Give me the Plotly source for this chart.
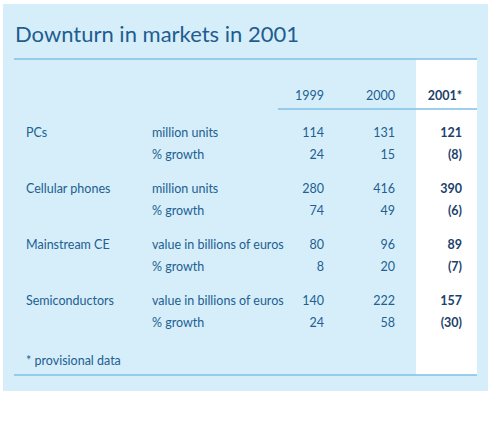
import plotly.graph_objects as go

# Table data
years = ["1999", "2000", "2001*"]
markets = ["PCs", "Cellular phones", "Mainstream CE", "Semiconductors"]
units = ["million units", "million units",
         "value in billions of euros", "value in billions of euros"]
values_1999 = [114, 280, 80, 140]
values_2000 = [131, 416, 96, 222]
values_2001 = [121, 390, 89, 157]
growth_1999 = [24, 74, 8, 24]
growth_2000 = [15, 49, 20, 58]
growth_2001 = [-8, -6, -7, -30]

title = "Downturn in markets in 2001"
note = "* provisional data"

# Styling
W, H = 493, 426
FONT = "Lato"
PANEL = "#d5eef9"
LINE = "#7fbfe6"
TITLE_COL = "#1f5d90"
TEXT_COL = "#235e92"
BOLD_COL = "#1d3f6b"

col_market_x = 26
col_unit_x = 152
col_year_x = [324, 395, 462]
header_y = 97
first_row_y = 134
group_step = 56
sub_step = 22


def fmt(v):
    return f"({abs(v)})" if v < 0 else str(v)


row_y, labels, unit_labels = [], [], []
cols = [[], [], []]
for i, m in enumerate(markets):
    y0 = first_row_y + group_step * i
    row_y += [y0, y0 + sub_step]
    labels += [m, ""]
    unit_labels += [units[i], "% growth"]
    cols[0] += [fmt(values_1999[i]), fmt(growth_1999[i])]
    cols[1] += [fmt(values_2000[i]), fmt(growth_2000[i])]
    cols[2] += [fmt(values_2001[i]), fmt(growth_2001[i])]

fig = go.Figure()

fig.add_trace(go.Scatter(
    x=[col_market_x] * len(row_y), y=row_y, text=labels, mode="text",
    textposition="middle right",
    textfont=dict(family=FONT, size=12.5, color=TEXT_COL),
))
fig.add_trace(go.Scatter(
    x=[col_unit_x] * len(row_y), y=row_y, text=unit_labels, mode="text",
    textposition="middle right",
    textfont=dict(family=FONT, size=12.5, color=TEXT_COL),
))
for j in range(3):
    bold = j == 2
    fig.add_trace(go.Scatter(
        x=[col_year_x[j]] * (len(row_y) + 1), y=[header_y] + row_y,
        text=[years[j]] + cols[j], mode="text",
        textposition="middle left",
        textfont=dict(family=FONT, size=12.5,
                      color=BOLD_COL if bold else TEXT_COL,
                      weight="bold" if bold else "normal"),
    ))

# footnote
fig.add_trace(go.Scatter(
    x=[col_market_x], y=[362], text=[note], mode="text",
    textposition="middle right",
    textfont=dict(family=FONT, size=12.5, color=TEXT_COL),
))

shapes = [
    dict(type="rect", x0=3, x1=488, y0=4, y1=391, fillcolor=PANEL,
         line_width=0, layer="below"),
    dict(type="rect", x0=416, x1=477, y0=59, y1=375, fillcolor="white",
         line_width=0, layer="below"),
    dict(type="line", x0=14, x1=477, y0=59, y1=59, line=dict(color=LINE, width=1.5)),
    dict(type="line", x0=278, x1=477, y0=109, y1=109, line=dict(color=LINE, width=1.5)),
    dict(type="line", x0=14, x1=477, y0=375, y1=375, line=dict(color=LINE, width=1.5)),
]

fig.update_layout(
    width=W, height=H,
    margin=dict(l=0, r=0, t=0, b=0),
    paper_bgcolor="white", plot_bgcolor="white",
    showlegend=False,
    shapes=shapes,
    xaxis=dict(range=[0, W], visible=False, fixedrange=True),
    yaxis=dict(range=[H, 0], visible=False, fixedrange=True),
    annotations=[dict(
        x=13, y=33, xref="x", yref="y", text=title, showarrow=False,
        xanchor="left", yanchor="middle",
        font=dict(family=FONT, size=22, color=TITLE_COL),
    )],
)

fig.write_html("out.html", config={"displayModeBar": False},
               post_script="document.body.style.margin='0';")
